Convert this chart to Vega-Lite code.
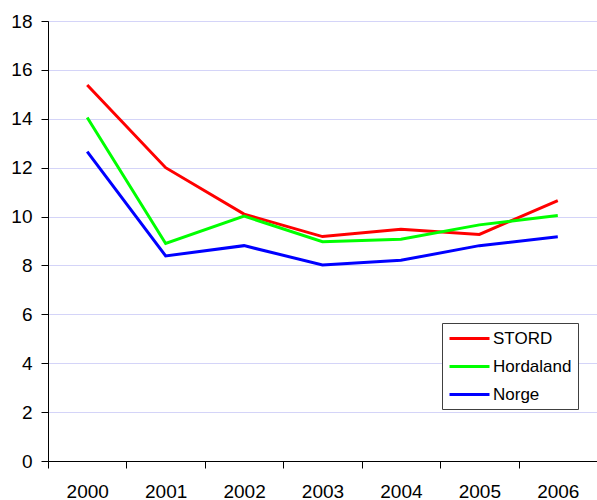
{
  "$schema": "https://vega.github.io/schema/vega-lite/v6.json",
  "width": 549,
  "height": 440,
  "autosize": {"type": "none"},
  "padding": {"left": 48, "top": 21, "right": 0, "bottom": 39},
  "background": "white",
  "config": {
    "font": "Liberation Sans",
    "view": {"stroke": "#808080", "strokeWidth": 1}
  },
  "data": {
    "values": [
      {"year": "2000", "region": "STORD", "value": 15.38},
      {"year": "2001", "region": "STORD", "value": 12.0},
      {"year": "2002", "region": "STORD", "value": 10.1},
      {"year": "2003", "region": "STORD", "value": 9.18},
      {"year": "2004", "region": "STORD", "value": 9.48},
      {"year": "2005", "region": "STORD", "value": 9.27},
      {"year": "2006", "region": "STORD", "value": 10.65},
      {"year": "2000", "region": "Hordaland", "value": 14.05},
      {"year": "2001", "region": "Hordaland", "value": 8.9},
      {"year": "2002", "region": "Hordaland", "value": 10.02},
      {"year": "2003", "region": "Hordaland", "value": 8.97},
      {"year": "2004", "region": "Hordaland", "value": 9.07},
      {"year": "2005", "region": "Hordaland", "value": 9.66},
      {"year": "2006", "region": "Hordaland", "value": 10.04},
      {"year": "2000", "region": "Norge", "value": 12.66},
      {"year": "2001", "region": "Norge", "value": 8.39},
      {"year": "2002", "region": "Norge", "value": 8.81},
      {"year": "2003", "region": "Norge", "value": 8.02},
      {"year": "2004", "region": "Norge", "value": 8.21},
      {"year": "2005", "region": "Norge", "value": 8.81},
      {"year": "2006", "region": "Norge", "value": 9.17}
    ]
  },
  "mark": {"type": "line", "strokeWidth": 3},
  "encoding": {
    "x": {
      "field": "year",
      "type": "ordinal",
      "scale": {"type": "band", "paddingInner": 0, "paddingOuter": 0},
      "axis": {
        "title": null,
        "labelAngle": 0,
        "tickBand": "extent",
        "domainColor": "#000000",
        "tickColor": "#000000",
        "tickSize": 7,
        "labelFontSize": 19,
        "labelColor": "#000000",
        "labelPadding": 14,
        "grid": false
      }
    },
    "y": {
      "field": "value",
      "type": "quantitative",
      "scale": {"domain": [0, 18], "nice": false},
      "axis": {
        "title": null,
        "values": [0, 2, 4, 6, 8, 10, 12, 14, 16, 18],
        "domainColor": "#000000",
        "tickColor": "#000000",
        "tickSize": 7,
        "labelFontSize": 19,
        "labelColor": "#000000",
        "labelPadding": 9,
        "gridColor": "#d4d4f8",
        "gridWidth": 1
      }
    },
    "color": {
      "field": "region",
      "type": "nominal",
      "scale": {"domain": ["STORD", "Hordaland", "Norge"], "range": ["#ff0000", "#00ff00", "#0000ff"]},
      "legend": {
        "title": null,
        "orient": "none",
        "legendX": 394,
        "legendY": 302,
        "symbolType": "M-1,0H4",
        "symbolSize": 256,
        "symbolStrokeWidth": 3,
        "symbolFillColor": "transparent",
        "labelFontSize": 17,
        "labelColor": "#000000",
        "labelOffset": 26,
        "rowPadding": 10,
        "padding": 6,
        "strokeColor": "#404040",
        "fillColor": "white"
      }
    }
  }
}
